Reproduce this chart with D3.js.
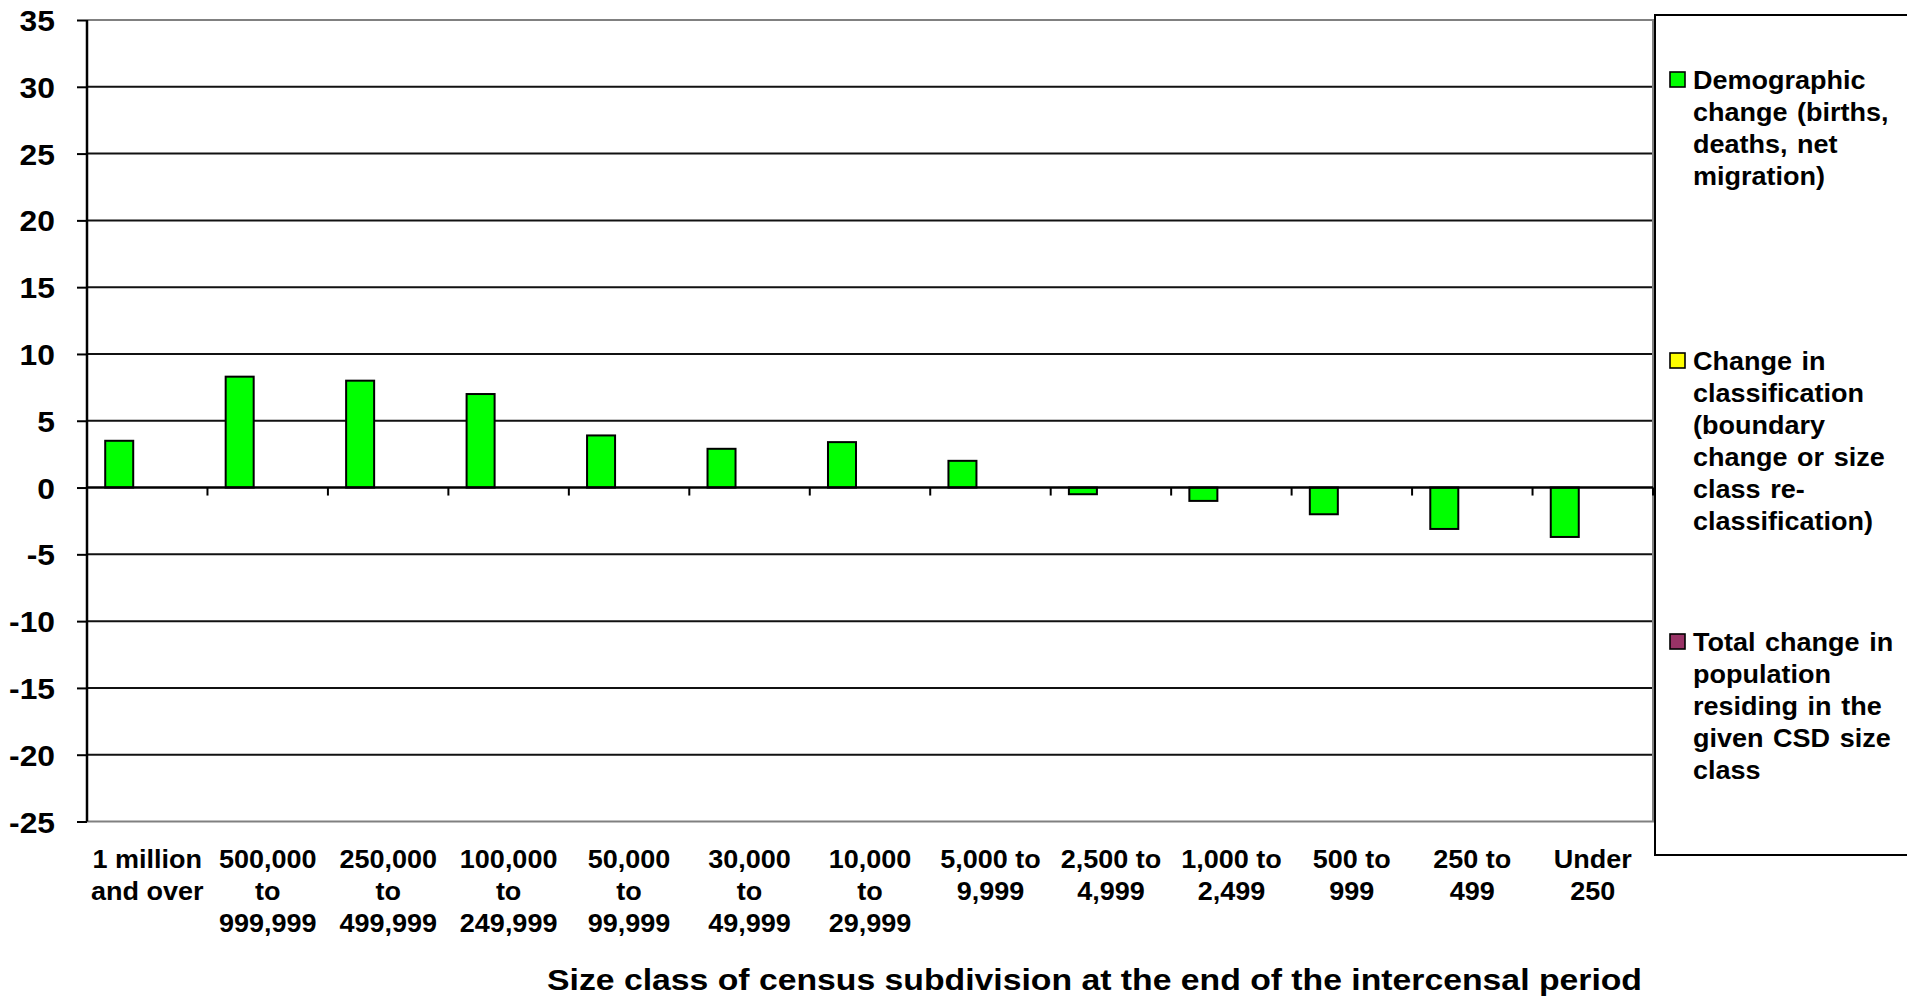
<!DOCTYPE html>
<html>
<head>
<meta charset="utf-8">
<script src="https://cdn.jsdelivr.net/npm/d3@7"></script>
<style>
  html, body { margin: 0; padding: 0; background: #fff; }
  svg { display: block; }
  text { font-family: "Liberation Sans", Arial, sans-serif; font-weight: bold; fill: #000; }
</style>
</head>
<body>
<svg id="chart" width="1907" height="996"></svg>
<script>
// Size classes of census subdivisions (line breaks mark wrapped label lines)
const categories = [
  "1 million\nand over",
  "500,000\nto\n999,999",
  "250,000\nto\n499,999",
  "100,000\nto\n249,999",
  "50,000\nto\n99,999",
  "30,000\nto\n49,999",
  "10,000\nto\n29,999",
  "5,000 to\n9,999",
  "2,500 to\n4,999",
  "1,000 to\n2,499",
  "500 to\n999",
  "250 to\n499",
  "Under\n250"
];

// Series names (legend wraps at the line breaks)
const seriesNames = [
  "Demographic\nchange (births,\ndeaths, net\nmigration)",
  "Change in\nclassification\n(boundary\nchange or size\nclass re-\nclassification)",
  "Total change in\npopulation\nresiding in the\ngiven CSD size\nclass"
];
const seriesColors = ["#00ff00", "#ffff00", "#993366"];

// Values per series; only demographic change is plotted
const demographicChange = [3.5, 8.3, 8.0, 7.0, 3.9, 2.9, 3.4, 2.0, -0.5, -1.0, -2.0, -3.1, -3.7];
const classificationChange = [null, null, null, null, null, null, null, null, null, null, null, null, null];
const totalChange = [null, null, null, null, null, null, null, null, null, null, null, null, null];

const yTickValues = [35, 30, 25, 20, 15, 10, 5, 0, -5, -10, -15, -20, -25];
const xTitle = "Size class of census subdivision at the end of the intercensal period";

const seriesValues = [demographicChange, classificationChange, totalChange];

const svg = d3.select("#chart");
const plot = { left: 87, right: 1653, top: 20, bottom: 821.5 };
const STRETCH = 1.08;

const y = d3.scaleLinear().domain([-25, 35]).range([plot.bottom, plot.top]);
const x0 = d3.scaleBand().domain(d3.range(categories.length)).range([plot.left, plot.right]);
const x1 = d3.scaleBand().domain(d3.range(seriesNames.length))
  .range([0, x0.bandwidth()]).paddingInner(0).paddingOuter(0.65);

// Horizontal gridlines
svg.append("g").selectAll("line")
  .data(yTickValues.filter(v => v !== 35 && v !== -25 && v !== 0))
  .join("line")
  .attr("x1", plot.left).attr("x2", plot.right)
  .attr("y1", d => y(d)).attr("y2", d => y(d))
  .attr("stroke", "#111").attr("stroke-width", 2);

// Plot area border (top, right, bottom)
svg.append("path")
  .attr("d", `M${plot.left},${y(35)}H${plot.right}V${y(-25)}H${plot.left}`)
  .attr("fill", "none").attr("stroke", "#808080").attr("stroke-width", 2);

// Bars
const barData = [];
seriesValues.forEach((vals, s) => vals.forEach((v, i) => {
  if (v !== null) barData.push({ s, i, v });
}));
svg.append("g").selectAll("rect")
  .data(barData)
  .join("rect")
  .attr("x", d => x0(d.i) + x1(d.s))
  .attr("width", x1.bandwidth())
  .attr("y", d => y(Math.max(0, d.v)))
  .attr("height", d => Math.abs(y(d.v) - y(0)))
  .attr("fill", d => seriesColors[d.s])
  .attr("stroke", "#000").attr("stroke-width", 2);

// Y axis (plain hyphen for negative labels)
const yAxis = svg.append("g")
  .attr("transform", `translate(${plot.left},0)`)
  .call(d3.axisLeft(y).tickValues(yTickValues).tickSize(10).tickFormat(d => String(d)));
yAxis.select(".domain").attr("stroke", "#000").attr("stroke-width", 2.5)
  .attr("d", `M0,${plot.top}V${plot.bottom}`);
yAxis.selectAll(".tick line").attr("stroke", "#000").attr("stroke-width", 2);
yAxis.selectAll(".tick text")
  .attr("x", null).attr("dy", null)
  .attr("transform", "translate(-32,10.5) scale(1.06,1)")
  .style("font-size", "30px")
  .style("font-family", "'Liberation Sans', Arial, sans-serif")
  .style("font-weight", "bold")
  .attr("fill", "#000");

// X axis along zero with tick marks between categories
const boundaries = d3.range(categories.length + 1).map(k => plot.left + k * x0.step());
const xAxisG = svg.append("g");
xAxisG.append("line")
  .attr("x1", plot.left).attr("x2", plot.right)
  .attr("y1", y(0)).attr("y2", y(0))
  .attr("stroke", "#000").attr("stroke-width", 2.5);
xAxisG.selectAll("line.tk")
  .data(boundaries.slice(1))
  .join("line").attr("class", "tk")
  .attr("x1", d => d).attr("x2", d => d)
  .attr("y1", y(0)).attr("y2", y(0) + 8)
  .attr("stroke", "#000").attr("stroke-width", 2);

// Category labels
const catG = svg.append("g");
categories.forEach((c, i) => {
  const cx = x0(i) + x0.bandwidth() / 2;
  c.split("\n").forEach((line, k) => {
    catG.append("text")
      .attr("transform", `translate(${cx},${868 + k * 32}) scale(${STRETCH},1)`)
      .attr("text-anchor", "middle")
      .style("font-size", "25px")
      .text(line);
  });
});

// X axis title
svg.append("text")
  .attr("x", 547).attr("y", 990)
  .attr("textLength", 1095).attr("lengthAdjust", "spacingAndGlyphs")
  .style("font-size", "30px")
  .text(xTitle);

// Legend
const legend = svg.append("g");
legend.append("rect")
  .attr("x", 1655).attr("y", 15).attr("width", 270).attr("height", 840)
  .attr("fill", "#fff").attr("stroke", "#000").attr("stroke-width", 2);
const legendFirstBaseline = 89, legendStep = 281, lineStep = 32;
seriesNames.forEach((name, s) => {
  const base = legendFirstBaseline + s * legendStep;
  legend.append("rect")
    .attr("x", 1670).attr("y", base - 17).attr("width", 15).attr("height", 15)
    .attr("fill", seriesColors[s]).attr("stroke", "#000").attr("stroke-width", 1.6);
  name.split("\n").forEach((line, k) => {
    legend.append("text")
      .attr("transform", `translate(1693,${base + k * lineStep}) scale(${STRETCH},1)`)
      .style("font-size", "25px")
      .style("word-spacing", "2px")
      .text(line);
  });
});
</script>
</body>
</html>
